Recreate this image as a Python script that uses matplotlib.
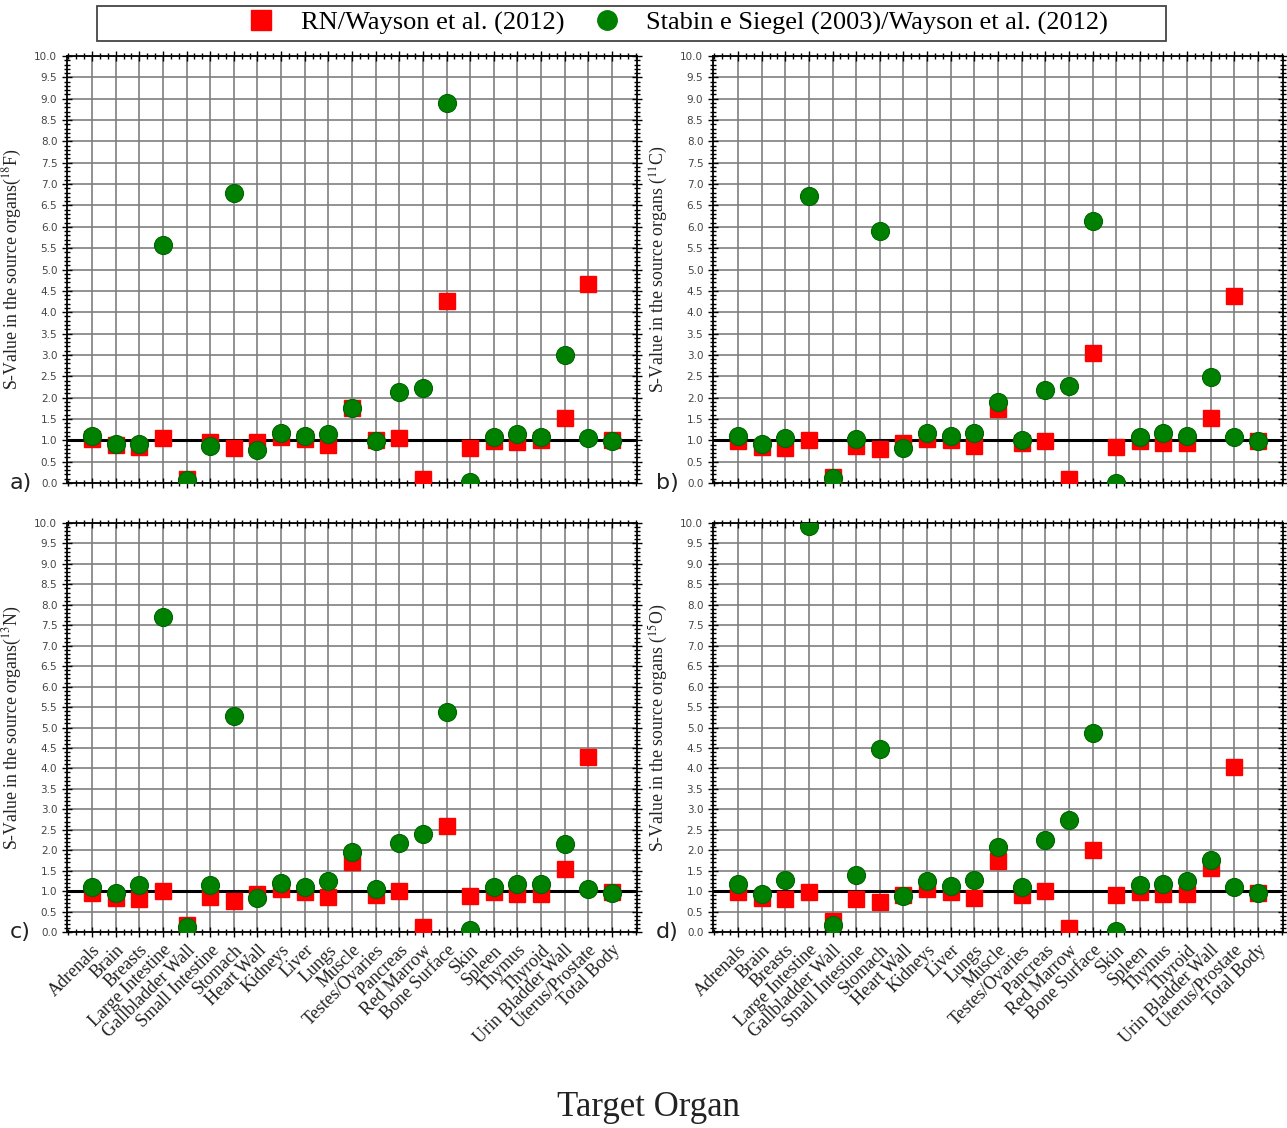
import numpy as np
import matplotlib
matplotlib.use("Agg")
import matplotlib.pyplot as plt
from matplotlib.ticker import MultipleLocator, AutoMinorLocator, FormatStrFormatter
from matplotlib.lines import Line2D
from matplotlib.patches import Rectangle

plt.rcParams['mathtext.fontset'] = 'stix'

organs = ["Adrenals", "Brain", "Breasts", "Large Intestine", "Gallbladder Wall",
          "Small Intestine", "Stomach", "Heart Wall", "Kidneys", "Liver", "Lungs",
          "Muscle", "Testes/Ovaries", "Pancreas", "Red Marrow", "Bone Surface",
          "Skin", "Spleen", "Thymus", "Thyroid", "Urin Bladder Wall",
          "Uterus/Prostate", "Total Body"]

# RN / Wayson ratios
rn_f18 = [1.03, 0.90, 0.84, 1.05, 0.10, 0.95, 0.82, 0.97, 1.08, 1.03, 0.90, 1.76,
          1.00, 1.05, 0.09, 4.27, 0.82, 0.98, 0.95, 1.00, 1.52, 4.66, 1.01]
rn_c11 = [0.98, 0.84, 0.82, 1.00, 0.14, 0.86, 0.80, 0.94, 1.04, 1.01, 0.87, 1.73,
          0.94, 0.98, 0.09, 3.04, 0.84, 0.98, 0.94, 0.94, 1.52, 4.38, 0.99]
rn_n13 = [0.95, 0.84, 0.81, 1.00, 0.18, 0.86, 0.77, 0.94, 1.04, 0.98, 0.86, 1.71,
          0.90, 1.00, 0.12, 2.58, 0.87, 0.98, 0.94, 0.94, 1.55, 4.28, 0.98]
rn_o15 = [0.98, 0.84, 0.81, 0.98, 0.27, 0.81, 0.73, 0.90, 1.04, 0.98, 0.84, 1.74,
          0.90, 1.00, 0.11, 2.01, 0.90, 0.98, 0.92, 0.92, 1.57, 4.03, 0.95]

# Stabin e Siegel / Wayson ratios
ss_f18 = [1.09, 0.91, 0.91, 5.58, 0.08, 0.87, 6.80, 0.78, 1.17, 1.11, 1.15, 1.76,
          0.98, 2.13, 2.22, 8.91, 0.02, 1.08, 1.15, 1.07, 3.00, 1.05, 0.98]
ss_c11 = [1.11, 0.91, 1.05, 6.72, 0.12, 1.04, 5.89, 0.82, 1.17, 1.11, 1.17, 1.89,
          1.00, 2.17, 2.28, 6.14, 0.00, 1.08, 1.17, 1.11, 2.48, 1.08, 0.98]
ss_n13 = [1.10, 0.95, 1.14, 7.69, 0.12, 1.14, 5.27, 0.84, 1.20, 1.10, 1.24, 1.96,
          1.04, 2.18, 2.40, 5.38, 0.04, 1.10, 1.17, 1.17, 2.14, 1.06, 0.95]
ss_o15 = [1.18, 0.94, 1.26, 9.92, 0.16, 1.39, 4.48, 0.87, 1.25, 1.12, 1.26, 2.08,
          1.10, 2.24, 2.75, 4.87, 0.02, 1.14, 1.17, 1.24, 1.75, 1.10, 0.95]

panels = [
    ("a)", r"S-Value in the source organs($^{18}$F)", rn_f18, ss_f18),
    ("b)", r"S-Value in the source organs ($^{11}$C)", rn_c11, ss_c11),
    ("c)", r"S-Value in the source organs($^{13}$N)", rn_n13, ss_n13),
    ("d)", r"S-Value in the source organs ($^{15}$O)", rn_o15, ss_o15),
]

W, H = 1287, 1128
fig = plt.figure(figsize=(W / 100, H / 100), dpi=100)

# axes boxes in pixels: left, top, right, bottom
boxes = [(67, 56, 637, 483), (713, 56, 1283, 483),
         (67, 523, 637, 932), (713, 523, 1283, 932)]

red = "#ff0000"
green = "#008000"
x = np.arange(len(organs))

for i, (tag, ylab, rn, ss) in enumerate(panels):
    l, t, r, b = boxes[i]
    ax = fig.add_axes([l / W, 1 - b / H, (r - l) / W, (b - t) / H])
    ax.set_xlim(-1.06, len(organs) - 1 + 1.06)
    ax.set_ylim(0, 10)

    ax.set_axisbelow(True)
    ax.grid(True, which='major', color='#7f7f7f', lw=1.2)
    ax.axhline(1.0, color='black', lw=2.2, zorder=2)

    ax.plot(x, rn, 's', color=red, ms=12, mec=red, ls='none', zorder=3)
    ax.plot(x, ss, 'o', color=green, ms=13, mec='#006400', mew=0.8, ls='none', zorder=4)

    ax.yaxis.set_major_locator(MultipleLocator(0.5))
    ax.yaxis.set_minor_locator(AutoMinorLocator(5))
    ax.yaxis.set_major_formatter(FormatStrFormatter('%.1f'))
    ax.set_xticks(x)
    ax.xaxis.set_minor_locator(AutoMinorLocator(3))
    ax.tick_params(which='both', direction='inout', top=True, right=True,
                   labelsize=7.5, labelcolor='#444444', width=1.0)
    ax.tick_params(which='major', length=7)
    ax.tick_params(which='minor', length=4)
    for sp in ax.spines.values():
        sp.set_linewidth(1.3)

    if i >= 2:
        ax.set_xticklabels(organs, rotation=45, ha='right', rotation_mode='anchor',
                           family='Liberation Serif', fontsize=13, color='#222222')
    else:
        ax.set_xticklabels([])

    ax.set_ylabel(ylab, family='Liberation Serif', fontsize=12.8, color='#222222')
    ax.yaxis.set_label_coords(-0.075, 0.5)
    ax.text(-0.1, 0.0, tag, transform=ax.transAxes, fontsize=16,
            ha='left', va='center', color='#222222')

# legend box across the top
fig.patches.append(Rectangle((97 / W, 1 - 41 / H), (1166 - 97) / W, 35 / H,
                             transform=fig.transFigure, fill=False,
                             edgecolor='#444444', lw=1.3))
handles = [Line2D([], [], marker='s', color=red, ls='none', ms=14),
           Line2D([], [], marker='o', color=green, ls='none', ms=14)]
fig.legend(handles, ["RN/Wayson et al. (2012)",
                     "Stabin e Siegel (2003)/Wayson et al. (2012)"],
           loc='center', bbox_to_anchor=(678 / W, 1 - 23 / H), ncol=2,
           frameon=False, prop={'family': 'Liberation Serif', 'size': 19},
           handletextpad=1.0, columnspacing=1.1, handlelength=1.0)

fig.text(648 / W, 1 - 1108 / H, "Target Organ", family='Liberation Serif',
         fontsize=25, ha='center', va='center', color='#222222')

fig.savefig("out.png", dpi=100)
